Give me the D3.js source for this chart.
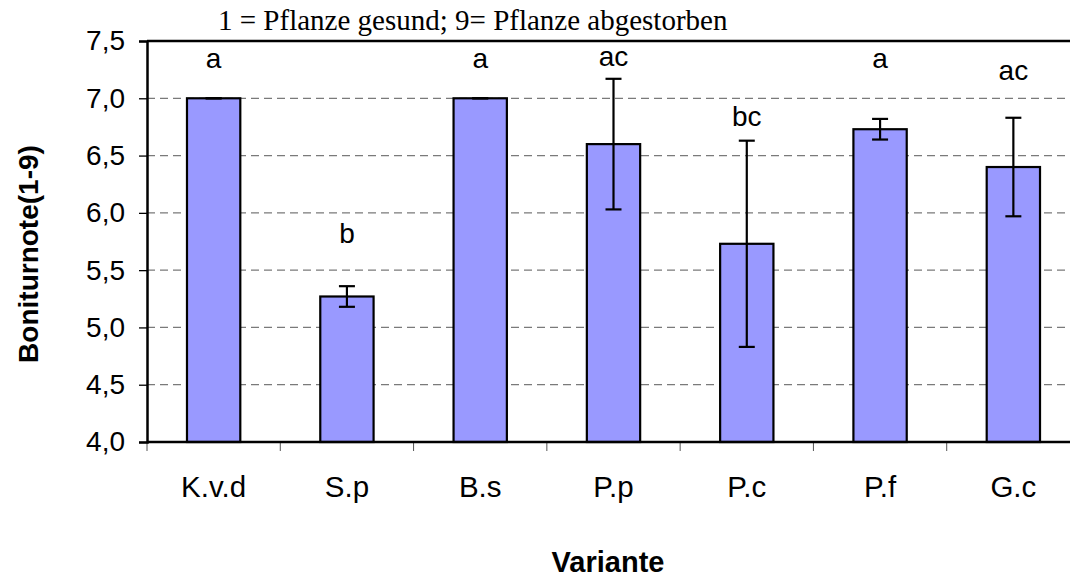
<!DOCTYPE html>
<html>
<head>
<meta charset="utf-8">
<script src="https://cdn.jsdelivr.net/npm/d3@7"></script>
<style>
  body { margin: 0; background: #fff; }
  svg { display: block; }
</style>
</head>
<body>
<svg id="chart" width="1070" height="579"></svg>
<script>
// data
const variants = ['K.v.d', 'S.p', 'B.s', 'P.p', 'P.c', 'P.f', 'G.c']
const means = [7.0, 5.27, 7.0, 6.6, 5.73, 6.73, 6.4]
const errs = [0.0, 0.09, 0.0, 0.57, 0.9, 0.09, 0.43]
const letters = ['a', 'b', 'a', 'ac', 'bc', 'a', 'ac']
const letterAt = [7.26, 5.74, 7.26, 7.28, 6.76, 7.26, 7.16]   // label baseline, in axis units
const yTicks = [4.0, 4.5, 5.0, 5.5, 6.0, 6.5, 7.0, 7.5]

const svg = d3.select('#chart')
const margin = { top: 41, right: -10, bottom: 137, left: 147 }
const width = 1070 - margin.left - margin.right
const height = 579 - margin.top - margin.bottom

const g = svg.append('g')
    .attr('transform', 'translate(' + margin.left + ',' + margin.top + ')')

const x = d3.scaleBand()
    .domain(variants)
    .range([0, width])
    .paddingInner(0.6)
    .paddingOuter(0.3)

const y = d3.scaleLinear()
    .domain([4, 7.5])
    .range([height, 0])

// dashed grid
g.append('g')
    .selectAll('line')
    .data(yTicks.filter(d => d > 4 && d < 7.5))
    .join('line')
    .attr('x1', 0)
    .attr('x2', width)
    .attr('y1', d => y(d))
    .attr('y2', d => y(d))
    .attr('stroke', '#7a7a7a')
    .attr('stroke-width', 1.3)
    .attr('stroke-dasharray', '8,5')

// x ticks at band edges
const step = x.step()
g.append('g')
    .selectAll('line')
    .data(d3.range(variants.length + 1))
    .join('line')
    .attr('x1', i => i * step)
    .attr('x2', i => i * step)
    .attr('y1', height)
    .attr('y2', height + 9)
    .attr('stroke', '#555')
    .attr('stroke-width', 1)

// bars
g.selectAll('.bar')
    .data(variants)
    .join('rect')
    .attr('class', 'bar')
    .attr('x', d => x(d))
    .attr('width', x.bandwidth())
    .attr('y', (d, i) => y(means[i]))
    .attr('height', (d, i) => height - y(means[i]))
    .attr('fill', '#9999ff')
    .attr('stroke', '#000')
    .attr('stroke-width', 2.2)

// error bars
const eb = g.append('g').attr('stroke', '#000').attr('stroke-width', 2.2)
variants.forEach((v, i) => {
    const cx = x(v) + x.bandwidth() / 2
    const hi = y(means[i] + errs[i])
    const lo = y(means[i] - errs[i])
    eb.append('line').attr('x1', cx).attr('x2', cx).attr('y1', hi).attr('y2', lo)
    eb.append('line').attr('x1', cx - 8).attr('x2', cx + 8).attr('y1', hi).attr('y2', hi)
    eb.append('line').attr('x1', cx - 8).attr('x2', cx + 8).attr('y1', lo).attr('y2', lo)
})

// significance letters
g.selectAll('.lt')
    .data(variants)
    .join('text')
    .attr('class', 'lt')
    .attr('x', d => x(d) + x.bandwidth() / 2)
    .attr('y', (d, i) => y(letterAt[i]))
    .attr('text-anchor', 'middle')
    .attr('font-family', 'Liberation Sans, Arial, sans-serif')
    .attr('font-size', 28)
    .text((d, i) => letters[i])

// frame: top, bottom
g.append('line').attr('x1', 0).attr('x2', width).attr('y1', 0).attr('y2', 0)
    .attr('stroke', '#000').attr('stroke-width', 2.5)
g.append('line').attr('x1', 0).attr('x2', width).attr('y1', height).attr('y2', height)
    .attr('stroke', '#000').attr('stroke-width', 2.5)

// y axis
const yAxis = g.append('g')
    .call(d3.axisLeft(y).tickValues(yTicks).tickSize(8).tickPadding(14)
        .tickFormat(d => d3.format('.1f')(d).replace('.', ',')))
yAxis.select('.domain').attr('stroke', '#000').attr('stroke-width', 2.5)
yAxis.selectAll('.tick line').attr('stroke', '#000').attr('stroke-width', 1.3)
yAxis.selectAll('.tick text')
    .attr('font-family', 'Liberation Sans, Arial, sans-serif')
    .attr('font-size', 28)
    .attr('fill', '#000')

// category labels
g.selectAll('.cat')
    .data(variants)
    .join('text')
    .attr('class', 'cat')
    .attr('x', d => x(d) + x.bandwidth() / 2)
    .attr('y', height + 55)
    .attr('text-anchor', 'middle')
    .attr('font-family', 'Liberation Sans, Arial, sans-serif')
    .attr('font-size', 29.5)
    .text(d => d)

// titles
svg.append('text')
    .attr('x', 218)
    .attr('y', 30)
    .attr('font-family', 'Liberation Serif, Times New Roman, serif')
    .attr('font-size', 29)
    .text('1 = Pflanze gesund; 9= Pflanze abgestorben')

svg.append('text')
    .attr('x', 608)
    .attr('y', 572)
    .attr('text-anchor', 'middle')
    .attr('font-family', 'Liberation Sans, Arial, sans-serif')
    .attr('font-weight', 'bold')
    .attr('font-size', 29)
    .text('Variante')

svg.append('text')
    .attr('transform', 'translate(38,254) rotate(-90)')
    .attr('text-anchor', 'middle')
    .attr('font-family', 'Liberation Sans, Arial, sans-serif')
    .attr('font-weight', 'bold')
    .attr('font-size', 28)
    .text('Boniturnote(1-9)')
</script>
</body>
</html>
